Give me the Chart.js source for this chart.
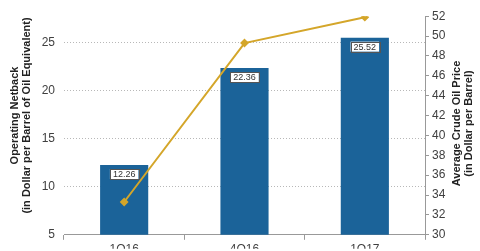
<!DOCTYPE html>
<html>
<head>
<meta charset="utf-8">
<script src="https://cdn.jsdelivr.net/npm/chart.js@4"></script>
<style>
  html, body { margin: 0; padding: 0; background: #fff; }
  #wrap { width: 480px; height: 251px; }
</style>
</head>
<body>
<div id="wrap"><canvas id="chart" width="480" height="251"></canvas></div>
<script>
// Data
const quarters = ['1Q16', '4Q16', '1Q17'];
const netback = [12.26, 22.36, 25.52];
const oilPrice = [33.3, 49.3, 51.9];
const leftTicks = [5, 10, 15, 20, 25];
const rightTicks = [30, 32, 34, 36, 38, 40, 42, 44, 46, 48, 50, 52];

const BAR_COLOR = '#1b6399';
const LINE_COLOR = '#d4a62a';
const TEXT_COLOR = '#404040';

// --- Value boxes on the bars ---
const barLabels = {
    id: 'barLabels',
    afterDatasetsDraw(chart) {
        const ctx = chart.ctx;
        const meta = chart.getDatasetMeta(1);
        ctx.save();
        ctx.font = '9px "Liberation Sans", Arial, sans-serif';
        ctx.textAlign = 'center';
        ctx.textBaseline = 'middle';
        meta.data.forEach((bar, i) => {
            const txt = netback[i].toFixed(2);
            const w = ctx.measureText(txt).width + 6;
            const h = 10;
            const x = bar.x - w / 2;
            const y = bar.y + 4;
            ctx.fillStyle = '#fff';
            ctx.fillRect(x, y, w, h);
            ctx.strokeStyle = '#555';
            ctx.lineWidth = 1;
            ctx.strokeRect(Math.round(x) + 0.5, Math.round(y) + 0.5, Math.round(w), h);
            ctx.fillStyle = '#333';
            ctx.fillText(txt, bar.x, y + h / 2 + 0.5);
        });
        ctx.restore();
    }
};

// --- Axis titles (right one reads bottom to top) ---
const axisTitles = {
    id: 'axisTitles',
    afterDraw(chart) {
        const ctx = chart.ctx;
        const area = chart.chartArea;
        const midY = (area.top + area.bottom) / 2;
        ctx.save();
        ctx.font = 'bold 11px "Liberation Sans", Arial, sans-serif';
        ctx.fillStyle = '#222';
        ctx.textAlign = 'center';
        ctx.textBaseline = 'middle';

        ctx.save();
        ctx.translate(15, midY - 10);
        ctx.rotate(-Math.PI / 2);
        ctx.fillText('Operating Netback', 0, 0);
        ctx.restore();
        ctx.save();
        ctx.translate(27, midY - 10);
        ctx.rotate(-Math.PI / 2);
        ctx.fillText('(in Dollar per Barrel of Oil Equivalent)', 0, 0);
        ctx.restore();

        ctx.save();
        ctx.translate(457, midY - 2);
        ctx.rotate(-Math.PI / 2);
        ctx.fillText('Average Crude Oil Price', 0, 0);
        ctx.restore();
        ctx.save();
        ctx.translate(469, midY - 2);
        ctx.rotate(-Math.PI / 2);
        ctx.fillText('(in Dollar per Barrel)', 0, 0);
        ctx.restore();

        ctx.restore();
    }
};

new Chart(document.getElementById('chart'), {
    type: 'bar',
    data: {
        labels: quarters,
        datasets: [
            {
                type: 'line',
                label: 'Average Crude Oil Price',
                data: oilPrice,
                yAxisID: 'y1',
                borderColor: LINE_COLOR,
                backgroundColor: LINE_COLOR,
                borderWidth: 2,
                pointStyle: 'rectRot',
                pointRadius: 3,
                tension: 0,
                order: 0
            },
            {
                label: 'Operating Netback',
                data: netback,
                yAxisID: 'y',
                backgroundColor: BAR_COLOR,
                categoryPercentage: 1,
                barPercentage: 0.4,
                order: 1
            }
        ]
    },
    options: {
        responsive: false,
        animation: false,
        layout: { padding: { top: 11, left: 0, right: 0, bottom: 0 } },
        plugins: {
            legend: { display: false },
            tooltip: { enabled: false }
        },
        scales: {
            x: {
                grid: { offset: true, drawOnChartArea: false, tickLength: 5, color: '#999' },
                border: { color: '#999' },
                ticks: {
                    color: TEXT_COLOR,
                    padding: 3,
                    font: { family: '"Liberation Sans", Arial, sans-serif', size: 12 }
                },
                afterFit(scale) { scale.height = 14; }
            },
            y: {
                position: 'left',
                min: 5,
                max: 27.75,
                afterBuildTicks(scale) { scale.ticks = leftTicks.map(v => ({ value: v })); },
                grid: {
                    drawTicks: false,
                    color: ctx => ctx.tick && ctx.tick.value === 5 ? 'rgba(0,0,0,0)' : '#b8b8b8'
                },
                border: { display: false, dash: [1, 2] },
                ticks: {
                    color: TEXT_COLOR,
                    padding: 9,
                    font: { family: '"Liberation Sans", Arial, sans-serif', size: 12 }
                },
                afterFit(scale) { scale.width = 64; }
            },
            y1: {
                position: 'right',
                min: 30,
                max: 52,
                afterBuildTicks(scale) { scale.ticks = rightTicks.map(v => ({ value: v })); },
                grid: { drawOnChartArea: false, tickLength: 4, color: '#999' },
                border: { color: '#999' },
                ticks: {
                    color: TEXT_COLOR,
                    padding: 3,
                    font: { family: '"Liberation Sans", Arial, sans-serif', size: 12 }
                },
                afterFit(scale) { scale.width = 55; }
            }
        }
    },
    plugins: [barLabels, axisTitles]
});
</script>
</body>
</html>
